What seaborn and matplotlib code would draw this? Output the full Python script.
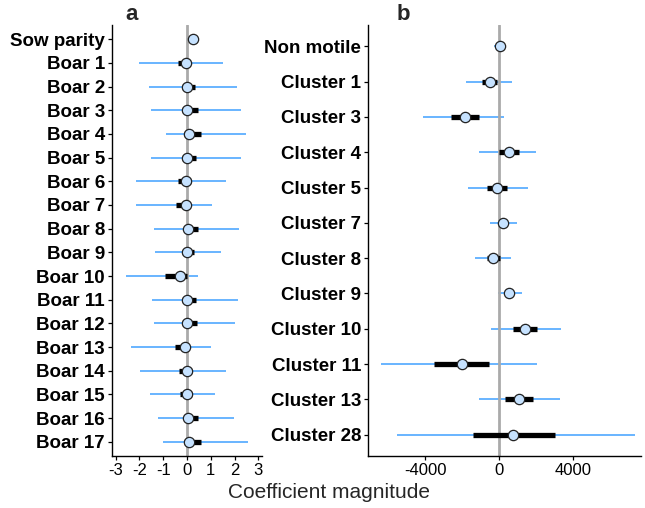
#!/usr/bin/env python3

import numpy as np
import matplotlib.pyplot as plt
import seaborn as sns

# Panel a: sow parity and boar effects
boar_labels = ["Sow parity", "Boar 1", "Boar 2", "Boar 3", "Boar 4", "Boar 5",
               "Boar 6", "Boar 7", "Boar 8", "Boar 9", "Boar 10", "Boar 11",
               "Boar 12", "Boar 13", "Boar 14", "Boar 15", "Boar 16", "Boar 17"]
boar_est = [0.25, -0.03, 0.0, 0.0, 0.1, 0.0, -0.03, -0.06, 0.03, 0.0,
            -0.31, 0.0, 0.02, -0.07, -0.01, -0.01, 0.04, 0.1]
boar_lo95 = [0.1, -2.0, -1.58, -1.5, -0.87, -1.53, -2.16, -2.13, -1.4, -1.36,
             -2.58, -1.46, -1.4, -2.37, -1.96, -1.57, -1.23, -1.02]
boar_hi95 = [0.47, 1.51, 2.1, 2.28, 2.48, 2.25, 1.64, 1.05, 2.18, 1.43,
             0.45, 2.14, 2.0, 1.02, 1.65, 1.19, 1.99, 2.56]
boar_lo50 = [0.18, -0.38, -0.21, -0.21, -0.11, -0.21, -0.38, -0.46, -0.14, -0.21,
             -0.94, -0.21, -0.21, -0.5, -0.32, -0.28, -0.14, -0.11]
boar_hi50 = [0.32, 0.1, 0.32, 0.45, 0.59, 0.36, 0.18, 0.07, 0.45, 0.28,
             0.0, 0.39, 0.42, 0.03, 0.22, 0.2, 0.45, 0.59]

# Panel b: sperm cluster effects
cluster_labels = ["Non motile", "Cluster 1", "Cluster 3", "Cluster 4", "Cluster 5",
                  "Cluster 7", "Cluster 8", "Cluster 9", "Cluster 10", "Cluster 11",
                  "Cluster 13", "Cluster 28"]
cluster_est = [36, -506, -1825, 542, -90, 217, -307, 524, 1391, -2006, 1084, 759]
cluster_lo95 = [-271, -1771, -4120, -1084, -1699, -488, -1319, -54, -452, -6397, -1102, -5529]
cluster_hi95 = [343, 705, 253, 2006, 1554, 994, 669, 1265, 3379, 2078, 3325, 7355]
cluster_lo50 = [-80, -922, -2584, 0, -650, 70, -650, 380, 759, -3542, 307, -1427]
cluster_hi50 = [150, -108, -1102, 1066, 452, 360, 36, 670, 2078, -524, 1825, 3054]

W, H = 645, 508
BLUE = "#4FA8FF"
FILL = "#C6E2FF"

sns.set_theme(style="ticks")
plt.rcParams['font.family'] = ['Liberation Sans', 'DejaVu Sans']

fig = plt.figure(figsize=(W / 100, H / 100), dpi=100)


def px_axes(left, right, top, bottom):
    return fig.add_axes([left / W, 1 - bottom / H, (right - left) / W, (bottom - top) / H])


def forest(ax, labels, est, lo95, hi95, lo50, hi50, xlim, ticks, ticklabels):
    n = len(labels)
    ax.hlines(labels, lo95, hi95, color=BLUE, lw=1.2, zorder=1)
    ax.axvline(0, color="#AAAAAA", lw=2.0, zorder=2)
    ax.hlines(labels, lo50, hi50, color="black", lw=3.8, zorder=3)
    sns.scatterplot(x=est, y=labels, ax=ax, color=FILL, edgecolor="#222222",
                    linewidth=0.9, s=55, zorder=4, legend=False)
    ax.set_xlim(*xlim)
    ax.set_ylim(n - 1 + 0.6, -0.6)
    ax.set_xticks(ticks)
    ax.set_xticklabels(ticklabels, fontsize=12)
    ax.set_yticks(range(n))
    ax.set_yticklabels(labels, fontsize=13.5, fontweight="bold")
    ax.set_xlabel("")
    ax.set_ylabel("")
    for side in ["top", "right"]:
        ax.spines[side].set_visible(False)
    for side in ["left", "bottom"]:
        ax.spines[side].set_color("black")
        ax.spines[side].set_linewidth(1.0)
    ax.tick_params(axis="both", length=3, width=0.9, color="black", pad=2,
                   labelcolor="black")


ax_a = px_axes(112, 262, 25, 456)
forest(ax_a, boar_labels, boar_est, boar_lo95, boar_hi95, boar_lo50, boar_hi50,
       (-3.15, 3.15), [-3, -2, -1, 0, 1, 2, 3], ["-3", "-2", "-1", "0", "1", "2", "3"])

ax_b = px_axes(368, 641, 25, 456)
forest(ax_b, cluster_labels, cluster_est, cluster_lo95, cluster_hi95, cluster_lo50,
       cluster_hi50, (-7100, 7700), [-4000, 0, 4000], ["-4000", "0", "4000"])

fig.text(132 / W, 1 - 15 / H, "a", fontsize=16, fontweight="bold", ha="center", va="center")
fig.text(403 / W, 1 - 15 / H, "b", fontsize=16, fontweight="bold", ha="center", va="center")
fig.text(329 / W, 1 - 493 / H, "Coefficient magnitude", fontsize=15, ha="center", va="center")

fig.savefig("out.png", dpi=100)
plt.close(fig)
